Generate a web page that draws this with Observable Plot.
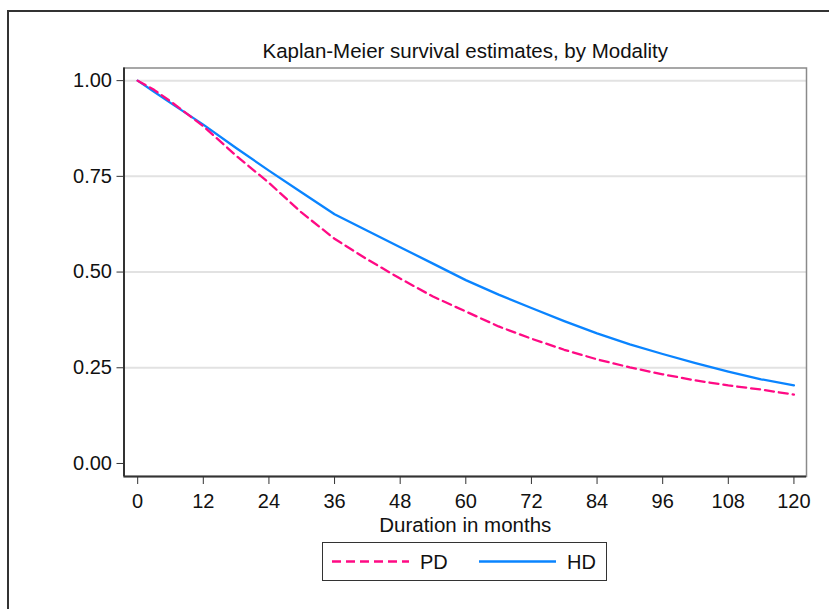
<!DOCTYPE html>
<html>
<head>
<meta charset="utf-8">
<script src="https://cdn.jsdelivr.net/npm/d3@7"></script>
<script src="https://cdn.jsdelivr.net/npm/@observablehq/plot@0.6"></script>
<style>
  body { margin: 0; background: #fff; font-family: "Liberation Sans", Arial, sans-serif; }
  #wrap { position: relative; width: 829px; height: 609px; overflow: hidden; background: #fff; }
  #outer { position: absolute; left: 7px; top: 10px; width: 840px; height: 620px;
           border-left: 2px solid #333; border-top: 2px solid #333; }
  #chart { position: absolute; left: 0; top: 0; }
  #legend { position: absolute; left: 322px; top: 542px; width: 285px; height: 39px;
            border: 1.5px solid #333; box-sizing: border-box; background: #fff; }
</style>
</head>
<body>
<div id="wrap">
  <div id="outer"></div>
  <div id="chart"></div>
  <div id="legend"></div>
</div>
<script>
// Kaplan-Meier survival estimates by dialysis modality
const months = [0, 3, 6, 12, 18, 24, 30, 36, 42, 48, 54, 60, 66, 72, 78, 84, 90, 96, 102, 108, 114, 120];
const pdSurvival = [1.000, 0.976, 0.946, 0.881, 0.804, 0.733, 0.655, 0.587, 0.533, 0.483, 0.436, 0.397, 0.358, 0.326, 0.297, 0.272, 0.251, 0.233, 0.217, 0.204, 0.193, 0.180];
const hdSurvival = [1.000, 0.971, 0.942, 0.885, 0.824, 0.765, 0.708, 0.651, 0.608, 0.565, 0.522, 0.479, 0.441, 0.406, 0.372, 0.340, 0.311, 0.286, 0.262, 0.240, 0.220, 0.204];

const seriesNames = ["PD", "HD"];
const seriesColors = ["#ff0a84", "#0a84ff"];
const seriesDash = ["9,5", null];

const xTicks = [0, 12, 24, 36, 48, 60, 72, 84, 96, 108, 120];
const yTicks = [0, 0.25, 0.5, 0.75, 1];
const yGrid = [0.25, 0.5, 0.75, 1];

const titleText = "Kaplan-Meier survival estimates, by Modality";
const xLabelText = "Duration in months";

const xDomain = [-2.5, 122.3];
const yDomain = [-0.034, 1.033];

const seriesValues = { PD: pdSurvival, HD: hdSurvival };
const rows = seriesNames.flatMap(name =>
  months.map((m, i) => ({ month: m, surv: seriesValues[name][i], group: name }))
);

const font = "'Liberation Sans', Arial, sans-serif";

const lineMarks = seriesNames.map((name, k) =>
  Plot.line(rows.filter(d => d.group === name), {
    x: "month", y: "surv",
    stroke: seriesColors[k], strokeWidth: 2.3,
    strokeDasharray: seriesDash[k] || undefined
  })
).reverse();

const chart = Plot.plot({
  width: 829,
  height: 609,
  marginLeft: 123.5,
  marginRight: 23,
  marginTop: 67.5,
  marginBottom: 133,
  style: { fontFamily: font, fontSize: "20px", color: "#111", background: "transparent", overflow: "visible" },
  x: { domain: xDomain },
  y: { domain: yDomain },
  marks: [
    Plot.ruleY(yGrid, { stroke: "#e2e2e2", strokeWidth: 2 }),
    Plot.frame({ stroke: "#8a8a8a", strokeWidth: 1.5 }),
    ...lineMarks,
    Plot.ruleX([xDomain[0]], { stroke: "#333", strokeWidth: 2 }),
    Plot.ruleY([yDomain[0]], { stroke: "#333", strokeWidth: 2 }),
    Plot.axisX({ ticks: xTicks, tickSize: 8, tickPadding: 9, label: null, stroke: "#333", fontSize: 20 }),
    Plot.axisY({ ticks: yTicks, tickFormat: d3.format(".2f"), tickSize: 7, tickPadding: 5, label: null, stroke: "#333", fontSize: 20 }),
    Plot.text([titleText], { text: d => d, frameAnchor: "top", dy: -17, lineAnchor: "middle", fontSize: 20.5, fill: "#111" }),
    Plot.text([xLabelText], { text: d => d, frameAnchor: "bottom", dy: 49, lineAnchor: "middle", fontSize: 20.5, fill: "#111" })
  ]
});
document.getElementById("chart").appendChild(chart);

// Legend: one sample line and label per series
const legendSvg = d3.select("#legend").append("svg")
  .attr("width", 282).attr("height", 36)
  .style("display", "block");
const legendX = [9, 156];
seriesNames.forEach((name, k) => {
  const g = legendSvg.append("g").attr("transform", `translate(${legendX[k]},0)`);
  g.append("line")
    .attr("x1", 0).attr("x2", 77).attr("y1", 18.5).attr("y2", 18.5)
    .attr("stroke", seriesColors[k]).attr("stroke-width", 2.3)
    .attr("stroke-dasharray", seriesDash[k]);
  g.append("text")
    .attr("x", 88).attr("y", 18.5).attr("dy", "0.35em")
    .attr("font-family", font).attr("font-size", 20).attr("fill", "#111")
    .text(name);
});
</script>
</body>
</html>
